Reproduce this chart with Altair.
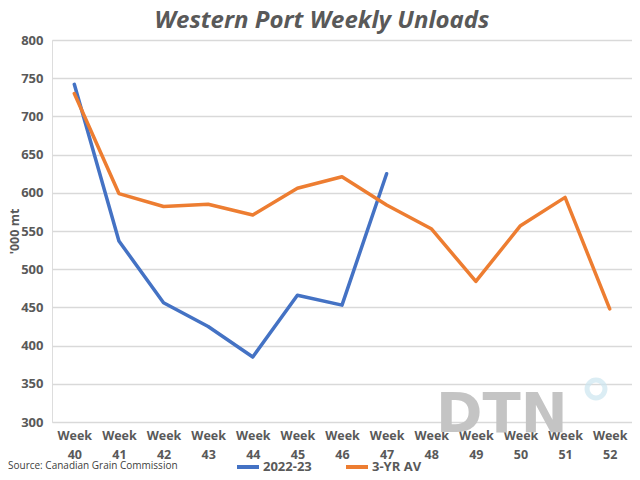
import altair as alt
import pandas as pd

weeks = ["Week 40", "Week 41", "Week 42", "Week 43", "Week 44", "Week 45", "Week 46",
         "Week 47", "Week 48", "Week 49", "Week 50", "Week 51", "Week 52"]
current = [742, 537, 456, 425, 385, 466, 453, 625]          # 2022-23
avg3 = [730, 599, 582, 585, 571, 606, 621, 584, 553, 484, 557, 594, 448]  # 3-YR AV
series_names = ["2022-23", "3-YR AV"]
series_colors = ["#4472C4", "#ED7D31"]

rows = []
for w, v in zip(weeks, current):
    rows.append({"week": w, "value": v, "series": series_names[0]})
for w, v in zip(weeks, avg3):
    rows.append({"week": w, "value": v, "series": series_names[1]})
df = pd.DataFrame(rows)

FONT = "Open Sans"
GREY = "#595959"
W, H = 580, 382

base = alt.Chart(df)

lines = base.mark_line(strokeWidth=3.5, strokeCap="round", strokeJoin="round").encode(
    x=alt.X("week:N", sort=weeks, title=None,
            scale=alt.Scale(paddingInner=0, paddingOuter=0.5),
            axis=alt.Axis(labelExpr="['Week', substring(datum.label, 5)]",
                          labelAngle=0, labelFontSize=12.5, labelFontWeight="bold",
                          labelColor=GREY, labelFont=FONT, labelPadding=7,
                          labelLineHeight=19, ticks=False, domain=False, grid=False)),
    y=alt.Y("value:Q", title="'000 mt",
            scale=alt.Scale(domain=[300, 800], nice=False, zero=False),
            axis=alt.Axis(values=list(range(300, 801, 50)), labelFontSize=13,
                          labelFontWeight="bold", labelColor=GREY, labelFont=FONT,
                          labelPadding=9, ticks=False, domain=False,
                          gridColor="#d9d9d9", gridWidth=1.5,
                          titleFontSize=12.5, titleFontWeight="bold", titleColor=GREY,
                          titleFont=FONT, titleX=-31, titleY=H / 2, titleAngle=-90,
                          titleAlign="center", titleBaseline="bottom")),
    color=alt.Color("series:N", sort=series_names,
                    scale=alt.Scale(domain=series_names, range=series_colors),
                    legend=alt.Legend(title=None, orient="none", direction="horizontal",
                                      legendX=183, legendY=414,
                                      symbolType="stroke", symbolStrokeWidth=4,
                                      symbolSize=484, columnPadding=26, labelOffset=2,
                                      labelFontSize=13, labelFontWeight="bold",
                                      labelColor=GREY, labelFont=FONT)),
)

# DTN watermark
wm = alt.Chart(pd.DataFrame({"t": ["DTN"]})).mark_text(
    align="left", baseline="alphabetic", fontSize=56, fontWeight="bold",
    font="DejaVu Sans", color="#c4c4c4"
).encode(text="t:N", x=alt.value(384), y=alt.value(392))

wm_circle = alt.Chart(pd.DataFrame({"t": ["o"]})).mark_point(
    shape="circle", size=320, filled=False, strokeWidth=5, color="#cde6f0"
).encode(x=alt.value(544), y=alt.value(349))

title = alt.Chart(pd.DataFrame({"t": ["Western Port Weekly Unloads"]})).mark_text(
    align="center", baseline="middle", fontSize=24, fontWeight="bold",
    fontStyle="italic", font=FONT, color=GREY
).encode(text="t:N", x=alt.value(270), y=alt.value(-19))

source = alt.Chart(pd.DataFrame({"t": ["Source: Canadian Grain Commission"]})).mark_text(
    align="left", baseline="middle", fontSize=10, font=FONT, color="#404040"
).encode(text="t:N", x=alt.value(-44), y=alt.value(426))

chart = alt.layer(wm, wm_circle, lines, title, source).properties(
    width=W, height=H,
    padding={"left": 44, "top": 32, "right": 0, "bottom": 50},
    autosize=alt.AutoSizeParams(type="none"),
).configure_view(stroke=None).configure(background="white")

chart.save("out.html", embed_options={"renderer": "svg", "actions": False})
